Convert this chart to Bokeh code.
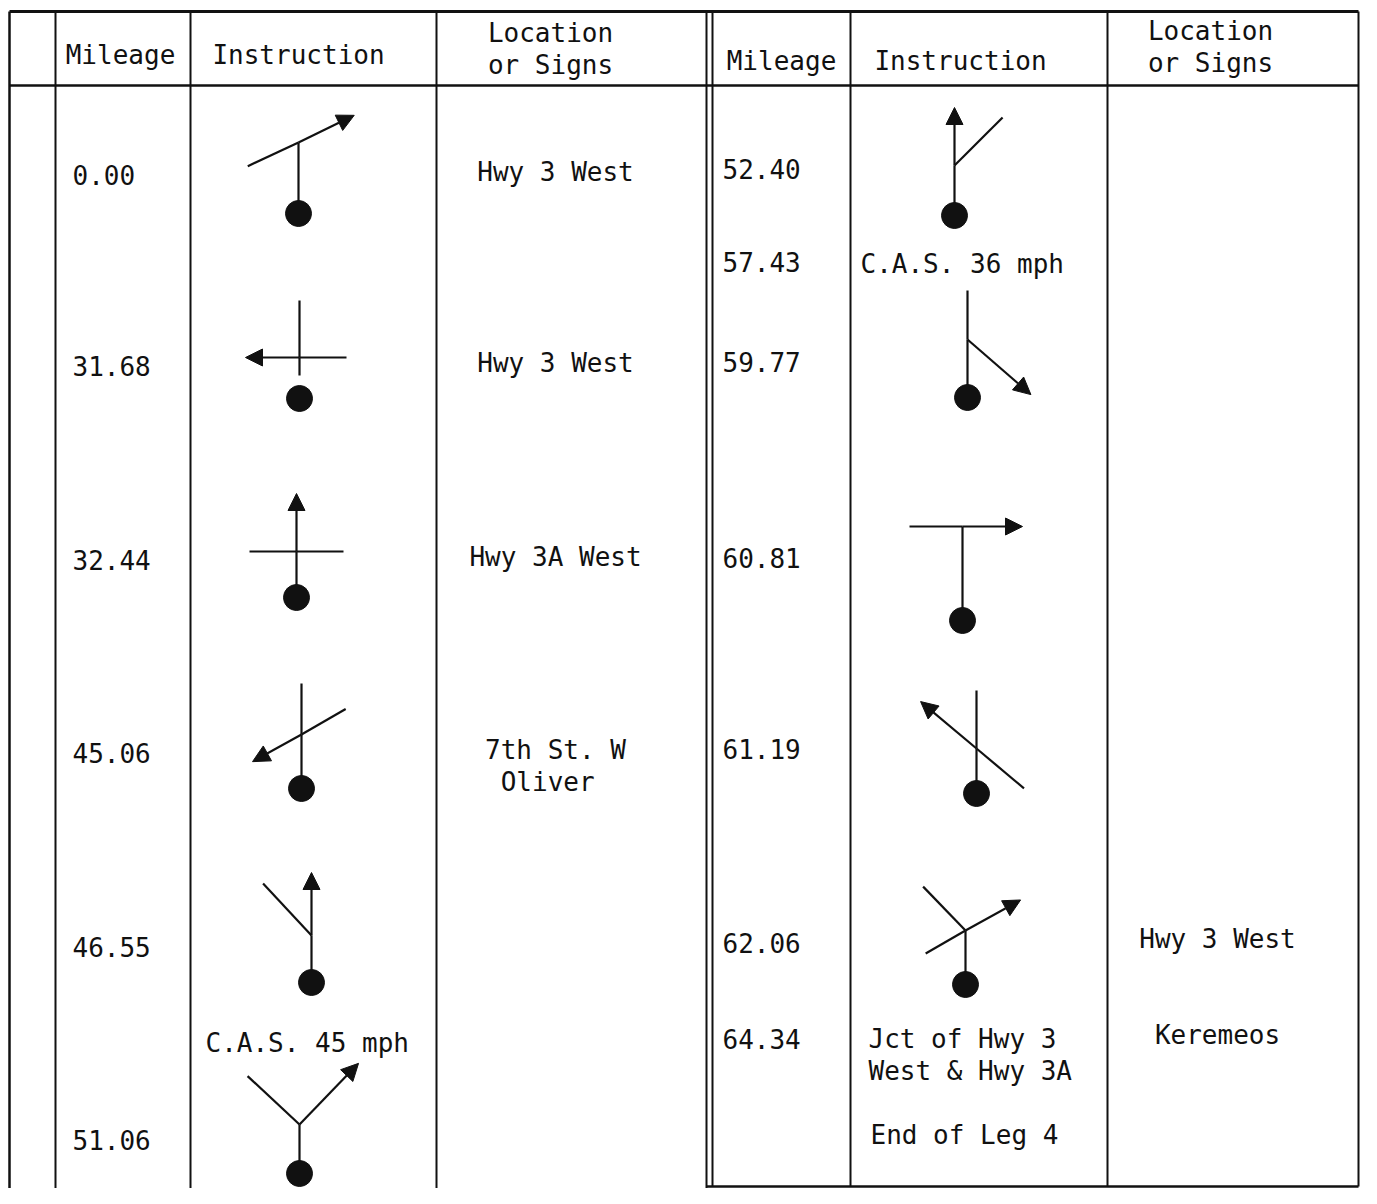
import math
from bokeh.plotting import figure
from bokeh.models import Range1d, Arrow, NormalHead, ColumnDataSource
from bokeh.core.properties import value
from bokeh.embed import file_html
from bokeh.resources import INLINE

# ---------------- data ----------------
header_mileage = "Mileage"
header_instruction = "Instruction"
header_location = ["Location", "or Signs"]

left_mileage = ["0.00", "31.68", "32.44", "45.06", "46.55", "51.06"]
right_mileage = ["52.40", "57.43", "59.77", "60.81", "61.19", "62.06", "64.34"]

left_location = [["Hwy 3 West"], ["Hwy 3 West"], ["Hwy 3A West"], ["7th St. W", " Oliver"], [], []]
right_location = [[], [], [], [], [], ["Hwy 3 West"], ["Keremeos"]]

left_notes = ["C.A.S. 45 mph"]
right_notes = ["C.A.S. 36 mph", "Jct of Hwy 3", "West & Hwy 3A", "End of Leg 4"]

# maneuver symbols: stem length, stem drawn, roads = (bearing deg clockwise from north, length, arrow?)
left_symbols = [
    (71, True, [(64, 62, True), (245, 56, False)]),
    (41, False, [(0, 57, False), (270, 54, True), (90, 47, False), (180, 18, False)]),
    (46, True, [(0, 58, True), (270, 47, False), (90, 47, False)]),
    (54, True, [(0, 51, False), (241, 56, True), (60, 51, False)]),
    (47, True, [(0, 63, True), (317, 71, False)]),
    (49, True, [(313, 71, False), (44, 85, True)]),
]
right_symbols = [
    (50, True, [(0, 58, True), (45, 68, False)]),
    (58, True, [(0, 49, False), (131, 84, True)]),
    (94, True, [(270, 53, False), (90, 60, True)]),
    (45, True, [(0, 58, False), (310, 73, True), (130, 62, False)]),
    (54, True, [(240, 46, False), (61, 63, True), (316, 61, False)]),
]

# ---------------- layout ----------------
W, H = 1361, 1188
p = figure(width=W, height=H, x_range=Range1d(0, W), y_range=Range1d(H, 0),
           min_border=0, toolbar_location=None, output_backend="svg")
p.axis.visible = False
p.grid.visible = False
p.outline_line_color = None
p.background_fill_color = "white"

FONT = value("DejaVu Sans Mono")
FS = "26px"
INK = "#111111"

# table rules
vx_left = [9, 55, 190, 436, 706]
vx_right = [712, 850, 1107, 1358]
p.segment(x0=vx_left, y0=[11] * len(vx_left), x1=vx_left, y1=[1188] * len(vx_left),
          line_color=INK, line_width=[2.5, 2, 2, 2, 2])
p.segment(x0=vx_right, y0=[11] * len(vx_right), x1=vx_right, y1=[1186] * len(vx_right),
          line_color=INK, line_width=2)
p.segment(x0=[9, 9, 706], y0=[11, 85, 1186], x1=[1358, 1358, 1358], y1=[11, 85, 1186],
          line_color=INK, line_width=[3, 2.5, 2.5])


def texts(xs, ys, labels, align):
    src = ColumnDataSource(dict(x=xs, y=ys, t=labels))
    p.text(x="x", y="y", text="t", source=src, text_font=FONT, text_font_size=FS,
           text_align=align, text_baseline="middle", text_color=INK)


# headers
texts([120, 298, 781, 960], [54, 54, 60, 60],
      [header_mileage, header_instruction, header_mileage, header_instruction], "center")
texts([550, 550, 1210, 1210], [32, 64, 30, 62], header_location * 2, "center")

# mileage
left_row_y = [174, 365, 559, 752, 946, 1139]
right_row_y = [168, 261, 361, 557, 748, 942, 1038]
texts([72] * len(left_mileage), left_row_y, left_mileage, "left")
texts([722] * len(right_mileage), right_row_y, right_mileage, "left")

# locations
lx, ly, lt = [], [], []
for y, lines in zip(left_row_y, left_location):
    for i, s in enumerate(lines):
        lx.append(555); ly.append(y - 3 + i * 32); lt.append(s)
for y, lines in zip(right_row_y, right_location):
    for i, s in enumerate(lines):
        lx.append(1217); ly.append(y - 4 + i * 32); lt.append(s)
texts(lx, ly, lt, "center")

# instruction notes
texts([205], [1042], left_notes, "left")
texts([860, 868, 868, 870], [263, 1038, 1070, 1134], right_notes, "left")

# symbols
left_dots = [(298, 213), (299, 398), (296, 597), (301, 788), (311, 982), (299, 1173)]
right_dots = [(954, 215), (967, 397), (962, 620), (976, 793), (965, 984)]

sx0, sy0, sx1, sy1 = [], [], [], []
ax0, ay0, ax1, ay1 = [], [], [], []
dx, dy = [], []
for dots, syms in ((left_dots, left_symbols), (right_dots, right_symbols)):
    for (x, y), (stem, drawn, roads) in zip(dots, syms):
        dx.append(x); dy.append(y)
        jx, jy = x, y - stem
        if drawn:
            sx0.append(x); sy0.append(y); sx1.append(jx); sy1.append(jy)
        for b, L, arrow in roads:
            ex = jx + L * math.sin(math.radians(b))
            ey = jy - L * math.cos(math.radians(b))
            if arrow:
                ax0.append(jx); ay0.append(jy); ax1.append(ex); ay1.append(ey)
            else:
                sx0.append(jx); sy0.append(jy); sx1.append(ex); sy1.append(ey)

p.segment(x0=sx0, y0=sy0, x1=sx1, y1=sy1, line_color=INK, line_width=2.2)
arrow_src = ColumnDataSource(dict(x0=ax0, y0=ay0, x1=ax1, y1=ay1))
p.add_layout(Arrow(end=NormalHead(size=17, fill_color=INK, line_color=INK, line_width=1),
                   x_start="x0", y_start="y0", x_end="x1", y_end="y1",
                   source=arrow_src, line_color=INK, line_width=2.2))
p.scatter(x=dx, y=dy, size=26, marker="circle", fill_color=INK, line_color=INK)

open("out.html", "w").write(file_html(p, INLINE))
